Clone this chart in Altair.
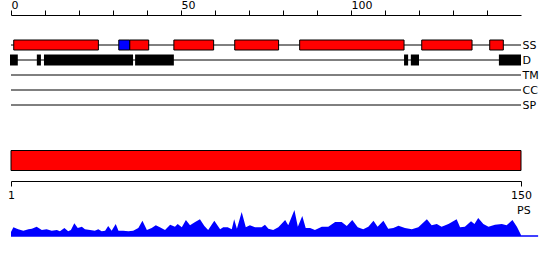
import altair as alt
import pandas as pd

# ---- data ----
seq_len = 150
tracks = ["SS", "D", "TM", "CC", "SP"]

helix_start = [0.8, 34.9, 47.9, 65.8, 84.9, 120.8, 140.8]
helix_end = [25.7, 40.5, 59.6, 78.7, 115.6, 135.6, 144.8]
strand_start = [31.7]
strand_end = [34.9]

dis_start = [-0.3, 7.6, 9.7, 36.5, 115.6, 117.6, 143.5]
dis_end = [2.0, 8.8, 35.9, 47.9, 116.8, 120.0, 150.0]

domain_start = [1]
domain_end = [150]

ps_pos = [1.0, 1.7, 3.1, 4.6, 6.1, 7.1, 8.5, 10.0, 11.4, 12.9, 14.4, 15.3, 16.6, 17.7, 18.5,
          19.5, 20.5, 21.7, 22.6, 24.1, 25.5, 26.5, 27.5, 28.5, 29.4, 30.4, 31.6, 32.4, 33.8,
          35.3, 36.7, 38.2, 39.4, 40.7, 42.1, 43.3, 44.5, 46.0, 47.5, 48.9, 49.7, 50.9, 52.1,
          53.3, 54.8, 56.2, 57.5, 58.6, 60.4, 62.1, 63.0, 64.3, 65.5, 66.2, 67.0, 68.4, 69.6,
          70.8, 72.3, 74.2, 75.2, 76.2, 77.6, 79.1, 81.1, 82.0, 83.8, 84.8, 86.1, 87.1, 88.4,
          89.8, 91.8, 93.7, 95.7, 97.6, 99.1, 100.7, 102.3, 103.9, 105.4, 106.9, 108.1, 109.8,
          111.2, 112.7, 114.2, 116.1, 118.1, 120.0, 122.5, 123.9, 125.4, 126.8, 128.8, 131.2,
          132.2, 133.6, 135.4, 136.4, 137.5, 139.0, 140.5, 142.4, 144.4, 145.8, 147.5, 148.8,
          150.0]
ps_score = [4, 8.7, 6.7, 5.3, 6.7, 7.3, 9.3, 6, 6.7, 5.3, 6, 4.7, 8, 4.7, 6,
            12.7, 8, 9.3, 6.7, 6, 5.3, 6.7, 4.7, 5.3, 10, 5.3, 12, 5.3, 5.3,
            4.7, 5.3, 8, 15.3, 6, 8, 10.7, 8.7, 6, 11.3, 9.3, 12, 8.7, 16,
            10.7, 14, 16.7, 10, 6, 15.3, 6.7, 8.7, 8.7, 6.7, 16.7, 7.3, 24, 8.7,
            10.7, 8.7, 8.7, 11.3, 7.3, 6, 8.7, 16, 10.7, 26, 9.3, 20, 8, 8,
            6, 9.3, 9.3, 14, 14, 10, 16, 8.7, 6.7, 9.3, 15.3, 9.3, 15.3,
            7.3, 8, 10.3, 8, 6.7, 8.7, 16.7, 10.7, 12, 9.3, 12, 16.7,
            8.7, 9.3, 14.7, 12, 18, 12, 9.3, 11.3, 12, 10.7, 16, 9.3,
            1]
ps_line_end = 155

FONT = "DejaVu Sans"

# ---- tables ----
track_df = pd.DataFrame({"track": tracks, "start": [0] * len(tracks), "end": [seq_len] * len(tracks)})
ss_df = pd.DataFrame({
    "track": ["SS"] * (len(helix_start) + len(strand_start)),
    "start": helix_start + strand_start,
    "end": helix_end + strand_end,
    "kind": ["helix"] * len(helix_start) + ["strand"] * len(strand_start),
})
d_df = pd.DataFrame({"track": ["D"] * len(dis_start), "start": dis_start, "end": dis_end})
dom_df = pd.DataFrame({"row": ["domain"], "start": domain_start, "end": domain_end})
ps_df = pd.DataFrame({"pos": ps_pos, "score": ps_score})
ps_line_df = pd.DataFrame({"start": [1], "end": [ps_line_end], "score": [0]})
ps_lab_df = pd.DataFrame({"label": ["PS"]})

top_x = alt.Scale(domain=[0, seq_len], nice=False, zero=False)
track_y = alt.Scale(type="point", domain=tracks, range=[30, 90], padding=0)

top_axis = alt.Axis(orient="top", values=list(range(0, 150, 10)),
                    labelExpr="(datum.value == 0 || datum.value == 50 || datum.value == 100) ? datum.label : ''",
                    labelAlign="left", labelFlush=False, labelPadding=0,
                    labelOverlap=False,
                    tickSize=5, domainColor="black", tickColor="black",
                    labelColor="black", labelFont=FONT, labelFontSize=11,
                    grid=False, title=None)
right_axis = alt.Axis(orient="right", domain=False, ticks=False, labelPadding=1,
                      labelOverlap=False,
                      labelColor="black", labelFont=FONT, labelFontSize=11,
                      grid=False, title=None)

rules = alt.Chart(track_df).mark_rule(color="black", strokeWidth=1).encode(
    x=alt.X("start:Q", scale=top_x, axis=top_axis),
    x2="end:Q",
    y=alt.Y("track:N", scale=track_y, axis=right_axis),
)
ss = alt.Chart(ss_df).mark_bar(size=10, stroke="black", strokeWidth=1).encode(
    x=alt.X("start:Q", scale=top_x, axis=top_axis),
    x2="end:Q",
    y=alt.Y("track:N", scale=track_y, axis=right_axis),
    color=alt.Color("kind:N", scale=alt.Scale(domain=["helix", "strand"],
                                                range=["#ff0000", "#0000ff"]), legend=None),
)
dis = alt.Chart(d_df).mark_bar(size=11, color="black").encode(
    x=alt.X("start:Q", scale=top_x, axis=top_axis),
    x2="end:Q",
    y=alt.Y("track:N", scale=track_y, axis=right_axis),
)
top = alt.layer(rules, ss, dis)

bot_x = alt.Scale(domain=[1, seq_len], nice=False, zero=False)
bot_axis = alt.Axis(orient="bottom", offset=-79, values=[1, 150], tickSize=5,
                    labelPadding=3, labelFlush=False, labelAlign="center",
                    labelOverlap=False,
                    domainColor="black", tickColor="black", labelColor="black",
                    labelFont=FONT, labelFontSize=11, grid=False, title=None)

dom = alt.Chart(dom_df).mark_rect(color="#ff0000", stroke="black", strokeWidth=1).encode(
    x=alt.X("start:Q", scale=bot_x, axis=bot_axis),
    x2="end:Q",
    y=alt.Y("row:N", scale=alt.Scale(range=[135.5, 155.5], paddingInner=0, paddingOuter=0), axis=None),
)

ps_y = alt.Scale(domain=[0, 30], range=[221, 191], nice=False, zero=False)
area = alt.Chart(ps_df).mark_area(color="#0000ff", interpolate="linear").encode(
    x=alt.X("pos:Q", scale=bot_x, axis=bot_axis),
    y=alt.Y("score:Q", scale=ps_y, axis=None),
)
ps_line = alt.Chart(ps_line_df).mark_rule(color="#0000ff", strokeWidth=1.5).encode(
    x=alt.X("start:Q", scale=bot_x, axis=bot_axis),
    x2="end:Q",
    y=alt.Y("score:Q", scale=ps_y, axis=None),
)
ps_lab = alt.Chart(ps_lab_df).mark_text(align="left", baseline="middle", font=FONT,
                                        fontSize=11, color="black").encode(
    x=alt.value(506), y=alt.value(196), text="label:N")

bottom = alt.layer(dom, alt.layer(area, ps_line), ps_lab).resolve_scale(y="independent")

chart = alt.layer(top, bottom).resolve_scale(x="independent", y="independent").properties(
    width=510, height=245,
    padding={"left": 11, "top": 15, "right": 29, "bottom": 0},
    autosize=alt.AutoSizeParams(type="none"),
    background="white",
).configure_view(stroke=None).configure_axis(labelOverlap=False)

chart.save("out.html", embed_options={"renderer": "svg", "actions": False})
